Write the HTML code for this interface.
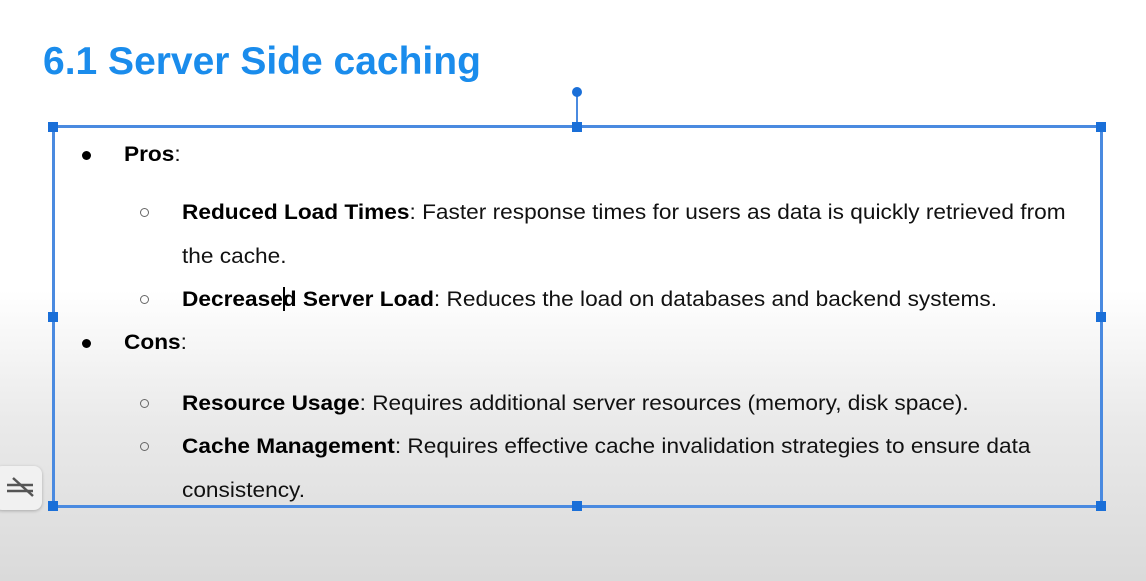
<!DOCTYPE html>
<html><head><style>
html,body{margin:0;padding:0}
body{width:1146px;height:581px;position:relative;overflow:hidden;font-family:"Liberation Sans",Arial,sans-serif;
background:linear-gradient(to bottom,#fff 0px,#fff 290px,#eaeaea 420px,#dadada 581px);}
.t{position:absolute;white-space:nowrap;font-size:20px;color:#111;line-height:1;transform-origin:0 0;transform:scale(1.133,1.05)}
b{font-weight:bold;color:#000}
.h{position:absolute;width:10px;height:10px;background:#1a6fd8}
.bul{position:absolute;width:9px;height:9px;border-radius:50%;background:#000}
.cir{position:absolute;width:7px;height:7px;border-radius:50%;border:1.3px solid #666}
</style></head><body>
<div style="position:absolute;left:43px;top:40px;font-size:39px;font-weight:bold;color:#1a8cec;white-space:nowrap">6.1 Server Side caching</div>

<div style="position:absolute;left:52px;top:125px;width:1051px;height:383px;border:3px solid #4a8ae0;box-sizing:border-box"></div>
<div style="position:absolute;left:576px;top:92px;width:2px;height:35px;background:#4a8ae0"></div>
<div style="position:absolute;left:572px;top:87px;width:10px;height:10px;border-radius:50%;background:#1a6fd8"></div>
<div class="h" style="left:48px;top:122px"></div>
<div class="h" style="left:572px;top:122px"></div>
<div class="h" style="left:1096px;top:122px"></div>
<div class="h" style="left:48px;top:312px"></div>
<div class="h" style="left:1096px;top:312px"></div>
<div class="h" style="left:48px;top:501px"></div>
<div class="h" style="left:572px;top:501px"></div>
<div class="h" style="left:1096px;top:501px"></div>

<div class="bul" style="left:82px;top:151px"></div>
<div class="t" style="left:124px;top:144px"><b>Pros</b>:</div>
<div class="cir" style="left:140px;top:208px"></div>
<div class="t" style="left:182px;top:202px"><b>Reduced Load Times</b>: Faster response times for users as data is quickly retrieved from</div>
<div class="t" style="left:182px;top:246px">the cache.</div>
<div class="cir" style="left:140px;top:295px"></div>
<div class="t" style="left:182px;top:289px"><b>Decreased Server Load</b>: Reduces the load on databases and backend systems.</div>
<div style="position:absolute;left:283px;top:287px;width:2px;height:24px;background:#000"></div>
<div class="bul" style="left:82px;top:339px"></div>
<div class="t" style="left:124px;top:332px"><b>Cons</b>:</div>
<div class="cir" style="left:140px;top:399px"></div>
<div class="t" style="left:182px;top:393px"><b>Resource Usage</b>: Requires additional server resources (memory, disk space).</div>
<div class="cir" style="left:140px;top:442px"></div>
<div class="t" style="left:182px;top:436px"><b>Cache Management</b>: Requires effective cache invalidation strategies to ensure data</div>
<div class="t" style="left:182px;top:480px">consistency.</div>

<div style="position:absolute;left:-6px;top:466px;width:48px;height:44px;background:#f1f1f1;border-radius:8px;box-shadow:0 1px 3px rgba(0,0,0,.25)"></div>
<svg style="position:absolute;left:5px;top:476px" width="30" height="24"><g stroke="#555" stroke-width="2.5"><line x1="2" y1="9" x2="28" y2="9"/><line x1="2" y1="15" x2="28" y2="15"/><line x1="8" y1="2" x2="28" y2="20"/></g></svg>
</body></html>
